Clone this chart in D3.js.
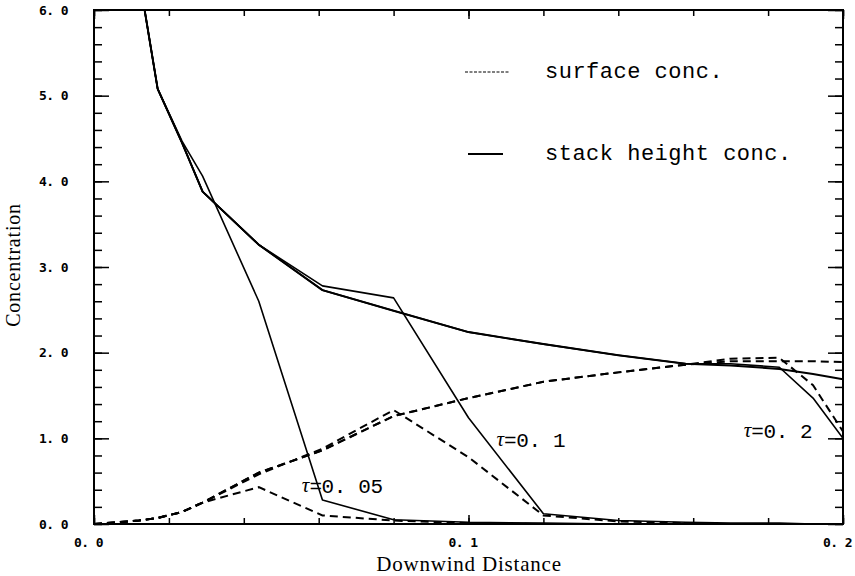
<!DOCTYPE html>
<html>
<head>
<meta charset="utf-8">
<script src="https://cdn.jsdelivr.net/npm/d3@7"></script>
<style>
  html, body { margin: 0; padding: 0; background: #fff; }
  svg { display: block; }
</style>
</head>
<body>
<svg id="chart" width="855" height="576"></svg>
<script>
// ---- data ----
const distance     = [0, 0.006, 0.012, 0.017, 0.0235, 0.029, 0.044, 0.061, 0.080, 0.100, 0.120, 0.140, 0.158, 0.170, 0.183, 0.192, 0.200];
// stack height concentration (solid)
const stackSteady  = [null, null, 6.4, 5.08, 4.45, 3.88, 3.26, 2.73, 2.49, 2.24, 2.10, 1.97, 1.87, 1.85, 1.81, 1.75, 1.69];
const stackTau02   = [null, null, 6.4, 5.08, 4.45, 3.88, 3.26, 2.73, 2.49, 2.24, 2.10, 1.97, 1.87, 1.87, 1.83, 1.47, 1.00];
const stackTau01   = [null, null, 6.4, 5.08, 4.45, 3.88, 3.26, 2.78, 2.64, 1.24, 0.12, 0.04, 0.02, 0.01, 0.01, 0.00, 0.00];
const stackTau005  = [null, null, 6.4, 5.08, 4.47, 4.06, 2.60, 0.28, 0.05, 0.02, 0.01, 0.00, 0.00, 0.00, 0.00, 0.00, 0.00];
// surface concentration (dashed)
const surfSteady   = [0, 0.02, 0.04, 0.07, 0.14, 0.25, 0.60, 0.86, 1.26, 1.47, 1.66, 1.77, 1.86, 1.90, 1.90, 1.90, 1.89];
const surfTau02    = [0, 0.02, 0.04, 0.07, 0.14, 0.25, 0.60, 0.86, 1.26, 1.47, 1.66, 1.77, 1.86, 1.93, 1.94, 1.62, 1.08];
const surfTau01    = [0, 0.02, 0.04, 0.07, 0.14, 0.25, 0.58, 0.88, 1.33, 0.78, 0.10, 0.03, 0.01, 0.00, 0.00, 0.00, 0.00];
const surfTau005   = [0, 0.02, 0.04, 0.07, 0.14, 0.25, 0.43, 0.10, 0.04, 0.01, 0.00, 0.00, 0.00, 0.00, 0.00, 0.00, 0.00];

const xTicksMajor  = [0, 0.1, 0.2];
const xTickLabels  = ["0. 0", "0. 1", "0. 2"];
const yTicksMajor  = [0, 1, 2, 3, 4, 5, 6];
const yTickLabels  = ["0. 0", "1. 0", "2. 0", "3. 0", "4. 0", "5. 0", "6. 0"];
const tauLabels    = [
  { tau: "0. 05", x: 0.0555, y: 0.43 },
  { tau: "0. 1",  x: 0.1075, y: 0.97 },
  { tau: "0. 2",  x: 0.1735, y: 1.07 }
];
const legendItems  = [
  { label: "surface conc.", dashed: true },
  { label: "stack height conc.", dashed: false }
];

// ---- layout ----
const svg = d3.select("#chart");
const L = 94, R = 843, T = 10, B = 524;
const x = d3.scaleLinear().domain([0, 0.2]).range([L, R]);
const y = d3.scaleLinear().domain([0, 6]).range([B, T]);

svg.append("defs").append("clipPath").attr("id", "clip")
  .append("rect").attr("x", L).attr("y", T).attr("width", R - L).attr("height", B - T);

const line = d3.line()
  .defined(d => d[1] !== null)
  .x(d => x(d[0])).y(d => y(d[1]));
const pts = arr => distance.map((d, i) => [d, arr[i]]);

const plot = svg.append("g").attr("clip-path", "url(#clip)");

// dashed surface curves
[surfSteady, surfTau02, surfTau01, surfTau005].forEach(s => {
  plot.append("path").attr("d", line(pts(s)))
    .attr("fill", "none").attr("stroke", "#000").attr("stroke-width", 2)
    .attr("stroke-dasharray", "8,5");
});
// solid stack curves
[stackSteady, stackTau02, stackTau01, stackTau005].forEach((s, i) => {
  plot.append("path").attr("d", line(pts(s)))
    .attr("fill", "none").attr("stroke", "#000").attr("stroke-width", i === 0 ? 2 : 1.6)
    .attr("stroke-linejoin", "round");
});

// ---- axes (ticks pointing inward) ----
const yMinor = d3.range(0, 6.0001, 0.2).map(v => +v.toFixed(1));
const xMinor = d3.range(0, 0.2001, 0.02).map(v => +v.toFixed(2));

function styleAxis(g) {
  g.select(".domain").remove();
  g.selectAll(".tick line").attr("stroke", "#000").attr("stroke-width", 1.5);
}
const tickFont = g => g.selectAll("text").attr("font-family", "'DejaVu Sans Mono', monospace")
  .attr("font-weight", "bold").attr("font-size", 13).attr("letter-spacing", -0.6).attr("fill", "#000");
// left
svg.append("g").attr("transform", `translate(${L},0)`)
  .call(d3.axisLeft(y).tickValues(yMinor).tickSize(-8).tickFormat(""))
  .call(styleAxis);
svg.append("g").attr("transform", `translate(${L},0)`)
  .call(d3.axisLeft(y).tickValues(yTicksMajor).tickSize(-15).tickPadding(26)
    .tickFormat((d, i) => yTickLabels[i]))
  .call(styleAxis)
  .call(tickFont);
// right
svg.append("g").attr("transform", `translate(${R},0)`)
  .call(d3.axisRight(y).tickValues(yMinor).tickSize(-8).tickFormat(""))
  .call(styleAxis);
svg.append("g").attr("transform", `translate(${R},0)`)
  .call(d3.axisRight(y).tickValues(yTicksMajor).tickSize(-15).tickFormat(""))
  .call(styleAxis);
// bottom
svg.append("g").attr("transform", `translate(0,${B})`)
  .call(d3.axisBottom(x).tickValues(xMinor).tickSize(-6).tickFormat(""))
  .call(styleAxis);
svg.append("g").attr("transform", `translate(0,${B})`)
  .call(d3.axisBottom(x).tickValues(xTicksMajor).tickSize(-9).tickPadding(14)
    .tickFormat((d, i) => xTickLabels[i]))
  .call(styleAxis)
  .call(tickFont)
  .call(g => g.selectAll("text").attr("dx", -6));
// top
svg.append("g").attr("transform", `translate(0,${T})`)
  .call(d3.axisTop(x).tickValues(xMinor).tickSize(-6).tickFormat(""))
  .call(styleAxis);
svg.append("g").attr("transform", `translate(0,${T})`)
  .call(d3.axisTop(x).tickValues(xTicksMajor).tickSize(-9).tickFormat(""))
  .call(styleAxis);

// frame
svg.append("rect").attr("x", L).attr("y", T).attr("width", R - L).attr("height", B - T)
  .attr("fill", "none").attr("stroke", "#000").attr("stroke-width", 2);

// ---- tau labels ----
tauLabels.forEach(t => {
  const tx = svg.append("text").attr("x", x(t.x)).attr("y", y(t.y))
    .attr("font-family", "'Liberation Mono', monospace").attr("font-size", 21)
    .attr("fill", "#000").attr("dominant-baseline", "middle");
  tx.append("tspan").attr("font-family", "'Liberation Serif', serif")
    .attr("font-style", "italic").text("τ");
  tx.append("tspan").attr("letter-spacing", -0.4).text("=" + t.tau);
});

// ---- legend ----
const legendY = [72, 154];
legendItems.forEach((it, i) => {
  svg.append("line").attr("x1", it.dashed ? 465 : 468).attr("x2", it.dashed ? 510 : 503)
    .attr("y1", legendY[i]).attr("y2", legendY[i])
    .attr("stroke", "#000").attr("stroke-width", it.dashed ? 1.2 : 1.8)
    .attr("stroke-dasharray", it.dashed ? "3,1.5" : null);
  svg.append("text").attr("x", 545).attr("y", legendY[i])
    .attr("dominant-baseline", "middle")
    .attr("font-family", "'Liberation Mono', monospace").attr("font-size", 22)
    .attr("letter-spacing", 0.5)
    .attr("fill", "#000").text(it.label);
});

// ---- axis titles ----
svg.append("text").attr("x", 469).attr("y", 571).attr("text-anchor", "middle")
  .attr("font-family", "'Liberation Serif', serif").attr("font-size", 21)
  .attr("letter-spacing", 0.8)
  .attr("fill", "#000").text("Downwind Distance");
svg.append("text").attr("transform", "translate(20,265) rotate(-90)")
  .attr("text-anchor", "middle")
  .attr("font-family", "'Liberation Serif', serif").attr("font-size", 20)
  .attr("letter-spacing", 0.8)
  .attr("fill", "#000").text("Concentration");
</script>
</body>
</html>
